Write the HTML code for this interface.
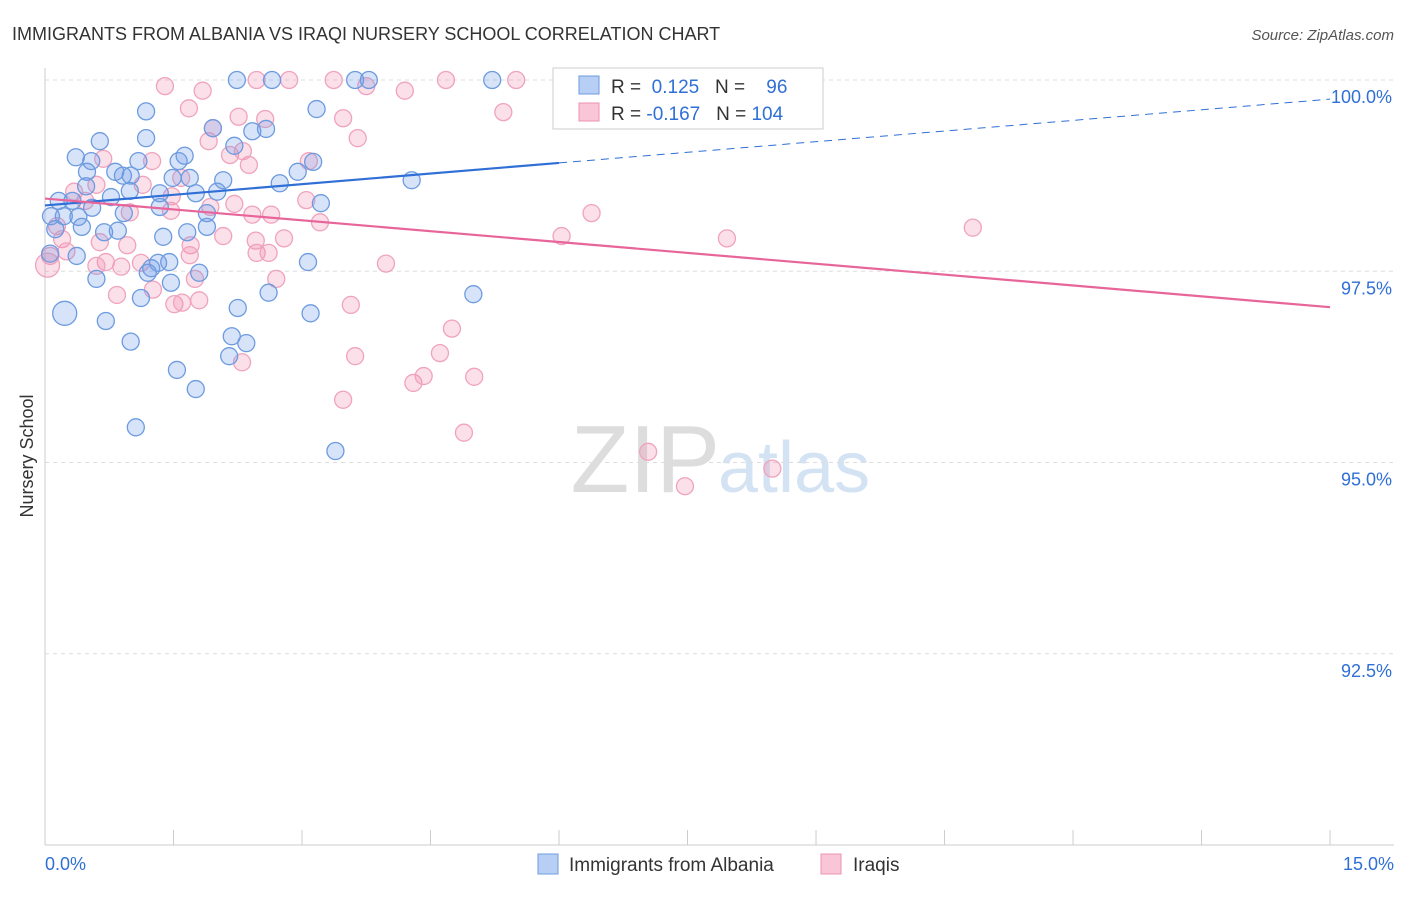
<!DOCTYPE html>
<html><head><meta charset="utf-8"><style>
body{margin:0;background:#fff;font-family:"Liberation Sans",sans-serif;}
svg text{font-family:"Liberation Sans",sans-serif;}
</style></head><body>
<svg id="chart" width="1406" height="892" xmlns="http://www.w3.org/2000/svg">
<text x="12" y="40" font-size="18" fill="#333">IMMIGRANTS FROM ALBANIA VS IRAQI NURSERY SCHOOL CORRELATION CHART</text>
<text x="1394" y="40" font-size="15" fill="#555" font-style="italic" text-anchor="end">Source: ZipAtlas.com</text>
<text x="720" y="492" font-size="96" fill="#ddd" text-anchor="end" font-family="Liberation Serif">ZIP</text>
<text x="718" y="492" font-size="72" fill="#d4e3f3">atlas</text>
<text transform="translate(33,456) rotate(-90)" font-size="18" fill="#333" text-anchor="middle">Nursery School</text>
<g id="grid"></g><g id="ticks"></g><g id="pts"></g><g id="trend"></g>
<g>
<rect x="553" y="68" width="270" height="61" fill="#fff" stroke="#ccc"/>
<rect x="579" y="76" width="20" height="18" fill="#b7cff5" stroke="#6d9be0"/>
<text x="611" y="93" font-size="19" fill="#333">R = <tspan fill="#2f6fd6">&#160;0.125</tspan>&#160;&#160;&#160;N = <tspan fill="#2f6fd6">&#160;&#160;&#160;96</tspan></text>
<rect x="579" y="103" width="20" height="18" fill="#f8c6d6" stroke="#ee93b1"/>
<text x="611" y="120" font-size="19" fill="#333">R = <tspan fill="#2f6fd6">-0.167</tspan>&#160;&#160;&#160;N = <tspan fill="#2f6fd6">104</tspan></text>
</g>
<g>
<rect x="538" y="854" width="20" height="20" fill="#b7cff5" stroke="#6d9be0"/>
<text x="569" y="871" font-size="19" fill="#333">Immigrants from Albania</text>
<rect x="821" y="854" width="20" height="20" fill="#f8c6d6" stroke="#ee93b1"/>
<text x="853" y="871" font-size="19" fill="#333">Iraqis</text>
</g>
<text x="45" y="870" font-size="18" fill="#2f6fd6">0.0%</text>
<text x="1394" y="870" font-size="18" fill="#2f6fd6" text-anchor="end">15.0%</text>
</svg>
<script>
const yTicks=[100,97.5,95,92.5];
const yTickLabels=["100.0%","97.5%","95.0%","92.5%"];
const blueX=[2.24,2.65,3.62,3.78,5.22,3.17,1.18,1.96,2.58,2.42,0.64,1.18,0.36,0.54,1.63,1.09,1.56,2.21,3.13,2.95,0.82,0.49,0.91,1.49,1.00,1.69,2.08,2.74,4.28,0.16,0.32,0.48,0.77,0.99,1.34,1.76,2.01,3.22,0.07,0.22,0.39,0.55,0.92,1.34,1.89,0.12,0.43,0.69,0.85,1.38,1.66,1.89,0.06,0.37,1.24,1.32,1.45,1.80,3.07,0.60,1.20,1.47,1.12,2.25,2.61,3.10,5.00,0.23,0.71,2.18,2.35,1.00,2.15,1.54,1.76,1.06,3.39];
const blueY=[100,100,100,100,100,99.62,99.59,99.37,99.36,99.33,99.20,99.24,98.99,98.94,99.01,98.94,98.94,99.14,98.93,98.80,98.80,98.80,98.75,98.72,98.75,98.72,98.69,98.65,98.69,98.42,98.42,98.61,98.47,98.55,98.52,98.52,98.54,98.39,98.22,98.22,98.21,98.33,98.26,98.34,98.26,98.05,98.08,98.01,98.03,97.95,98.01,98.08,97.73,97.70,97.54,97.61,97.62,97.48,97.62,97.40,97.48,97.35,97.15,97.02,97.22,96.95,97.20,96.95,96.85,96.65,96.56,96.58,96.39,96.21,95.96,95.46,95.15];
const pinkX=[1.40,2.47,2.85,3.37,4.68,5.50,7.79,3.75,4.20,1.84,1.68,2.26,2.57,5.35,3.48,3.65,1.96,1.91,2.16,2.31,2.38,0.68,3.08,1.25,1.59,0.60,0.34,1.14,1.48,3.05,0.47,0.99,1.47,1.93,2.21,2.42,2.64,3.21,6.38,10.83,7.96,6.03,0.14,0.20,0.64,0.96,1.70,2.08,2.46,2.79,0.06,0.25,0.71,0.89,1.12,1.69,2.47,2.61,3.98,0.60,0.84,1.26,1.51,1.60,1.80,1.75,2.70,3.57,4.75,3.62,4.61,2.30,4.30,4.42,5.01,3.48,4.89,7.04,7.47,8.49,0.03];
const pinkY=[99.92,100,100,100,100,100,100,99.92,99.86,99.86,99.63,99.52,99.49,99.58,99.50,99.24,99.37,99.20,99.02,99.07,98.89,98.97,98.94,98.94,98.72,98.63,98.54,98.63,98.48,98.43,98.42,98.27,98.29,98.34,98.38,98.24,98.24,98.14,98.26,98.07,97.93,97.96,98.09,97.92,97.88,97.84,97.84,97.96,97.90,97.93,97.70,97.76,97.62,97.56,97.61,97.71,97.74,97.74,97.60,97.57,97.19,97.26,97.07,97.09,97.12,97.40,97.40,97.06,96.75,96.39,96.43,96.31,96.04,96.13,96.12,95.82,95.39,95.14,94.69,94.92,97.58];
const blueTrendY=[98.36,99.75];
const pinkTrendY=[98.45,97.03];
const xS=v=>45+v*85.67, yS=v=>80+(100-v)*76.5;
const NS="http://www.w3.org/2000/svg";
function mk(t,a,p){const e=document.createElementNS(NS,t);for(const k in a)e.setAttribute(k,a[k]);document.getElementById(p).appendChild(e);return e;}
yTicks.forEach((t,i)=>{
 const g=mk('line',{x1:45,x2:1394,y1:yS(t),y2:yS(t),stroke:'#ddd','stroke-dasharray':'4,4'},'grid');
 
 
 const tx=mk('text',{x:1392,y:yS(t)+23,'font-size':18,fill:'#2f6fd6','text-anchor':'end'},'ticks');
 tx.textContent=yTickLabels[i];
 
 
});
const ax=mk('line',{x1:45,x2:45,y1:68,y2:845,stroke:'#ccc'},'ticks');


const bx=mk('line',{x1:45,x2:1394,y1:845,y2:845,stroke:'#ccc'},'ticks');


for(let i=0;i<=10;i++){const l=mk('line',{x1:xS(i*1.5),x2:xS(i*1.5),y1:830,y2:845,stroke:'#ccc'},'ticks');
 
 }
function pts(X,Y,fill,stroke,name){X.forEach((x,i)=>{const big=(x<0.3&&(Y[i]<97.6&&Y[i]>96.9));
 const c=mk('circle',{cx:xS(x),cy:yS(Y[i]),r:big?12:8.5,fill:fill,stroke:stroke,'stroke-width':1.3},'pts');
 
 });}
pts(pinkX,pinkY,'rgba(240,140,175,0.28)','#f0a3bd','iraqis-point');
pts(blueX,blueY,'rgba(110,155,230,0.28)','#6d9be0','albania-point');
const b1=mk('line',{x1:xS(0),y1:yS(blueTrendY[0]),x2:xS(6),y2:yS(blueTrendY[0]+(blueTrendY[1]-blueTrendY[0])*6/15),stroke:'#2f6fd6','stroke-width':2.2},'trend');


const b2=mk('line',{x1:xS(6),y1:yS(blueTrendY[0]+(blueTrendY[1]-blueTrendY[0])*6/15),x2:xS(15),y2:yS(blueTrendY[1]),stroke:'#2f6fd6','stroke-width':1,'stroke-dasharray':'8,6'},'trend');


const p1=mk('line',{x1:xS(0),y1:yS(pinkTrendY[0]),x2:xS(15),y2:yS(pinkTrendY[1]),stroke:'#e8659a','stroke-width':2.2},'trend');


</script>
</body></html>
